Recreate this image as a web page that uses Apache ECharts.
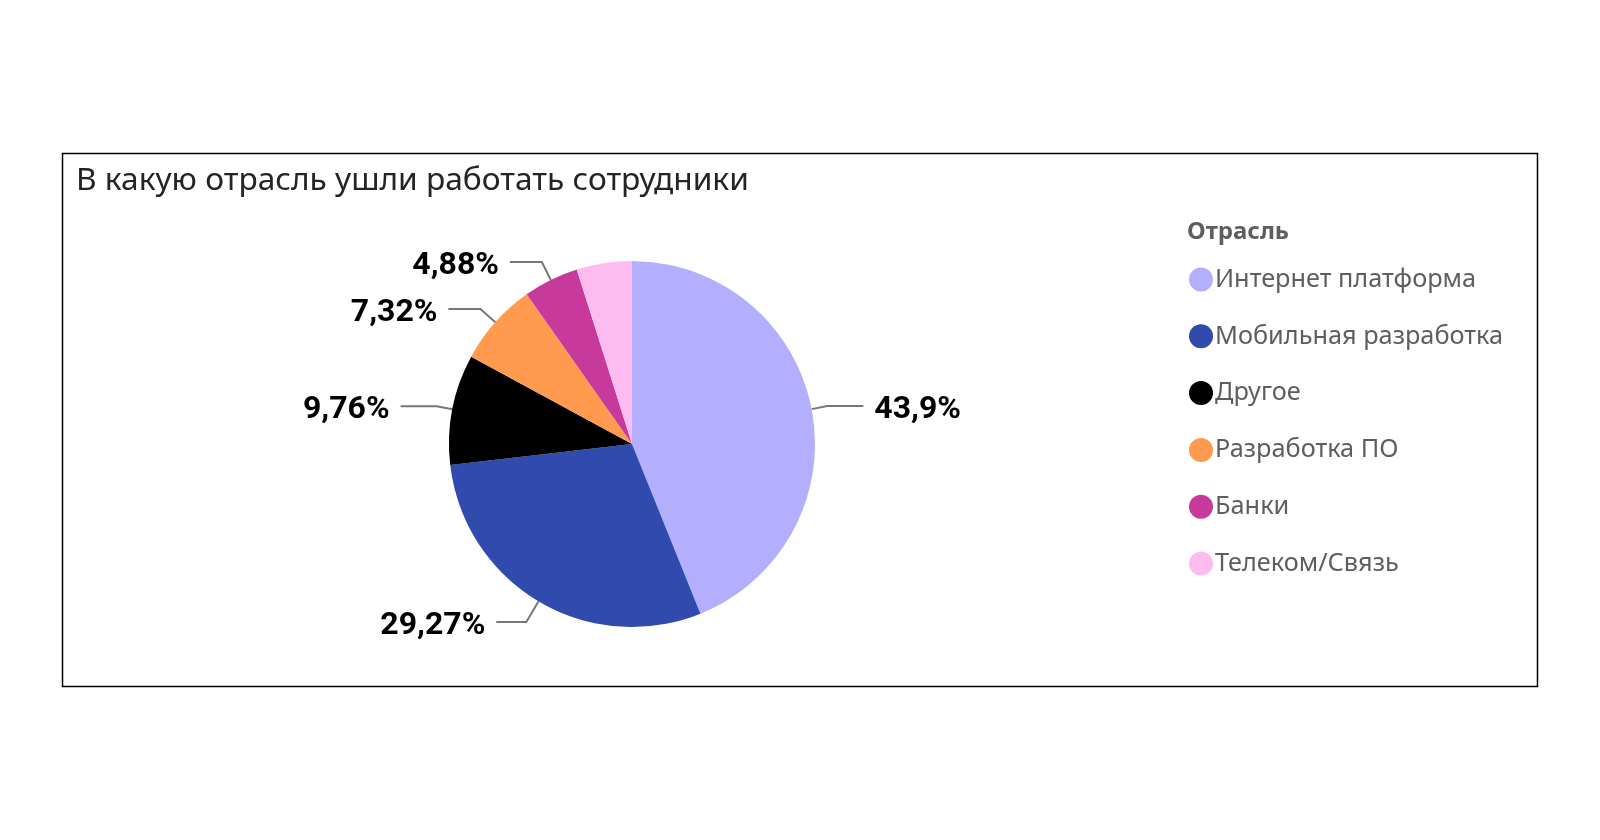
<!DOCTYPE html>
<html>
<head>
<meta charset="utf-8">
<script src="https://cdn.jsdelivr.net/npm/echarts@6/dist/echarts.min.js"></script>
<style>
html,body{margin:0;padding:0;background:#fff;}
#chart{width:1600px;height:840px;}
</style>
</head>
<body>
<div id="chart"></div>
<script>
const titleText = 'В какую отрасль ушли работать сотрудники';
const legendTitle = 'Отрасль';
const categories = ['Интернет платформа', 'Мобильная разработка', 'Другое', 'Разработка ПО', 'Банки', 'Телеком/Связь'];
const values = [43.9, 29.27, 9.76, 7.32, 4.88, 4.88];
const colors = ['#B4AEFE', '#304AAE', '#000000', '#FF9A4E', '#C8399C', '#FEBBF0'];
const hiddenLabels = ['Телеком/Связь'];

const chart = echarts.init(document.getElementById('chart'), null, {renderer: 'canvas'});
const data = categories.map((c, i) => {
  const d = {name: c, value: values[i], itemStyle: {color: colors[i]}};
  if (hiddenLabels.includes(c)) {
    d.label = {show: false};
    d.labelLine = {show: false};
  }
  if (c === 'Мобильная разработка') {
    d.labelLine = {length: 24, length2: 30};
  }
  if (c === 'Банки' || c === 'Разработка ПО') {
    d.labelLine = {length: 20, length2: 32};
  }
  return d;
});

chart.setOption({
  backgroundColor: '#ffffff',
  animation: false,
  title: [{
    text: titleText,
    left: 71,
    top: 160,
    textStyle: {fontFamily: 'Noto Sans', fontSize: 31.7, fontWeight: 'normal', color: '#252423'}
  }, {
    text: legendTitle,
    left: 1182,
    top: 215,
    textStyle: {fontFamily: 'Noto Sans', fontSize: 24, fontWeight: 'bold', color: '#605E5C'}
  }],
  legend: {
    orient: 'vertical',
    left: 1184,
    top: 262,
    icon: 'circle',
    itemWidth: 24,
    itemHeight: 24,
    itemGap: 31.8,
    data: categories,
    textStyle: {fontFamily: 'Noto Sans', fontSize: 25.3, color: '#605E5C', padding: [0, 0, 0, -3]}
  },
  graphic: [{
    type: 'rect',
    shape: {x: 62.5, y: 153.5, width: 1475, height: 533},
    style: {fill: 'none', stroke: '#000', lineWidth: 1.5},
    silent: true,
    z: -1
  }],
  series: [{
    type: 'pie',
    center: [632, 444],
    radius: [0, 183],
    startAngle: 90,
    clockwise: true,
    data: data,
    label: {
      show: true,
      formatter: p => String(p.value).replace('.', ',') + '%',
      fontFamily: 'Roboto',
      fontWeight: 'bold',
      fontSize: 32,
      color: '#000',
      distanceToLabelLine: 11
    },
    labelLayout: function () { return {dy: 4}; },
    labelLine: {
      show: true,
      length: 16,
      length2: 36,
      smooth: false,
      lineStyle: {color: '#777', width: 2}
    },
    emphasis: {disabled: true}
  }]
});
</script>
</body>
</html>
